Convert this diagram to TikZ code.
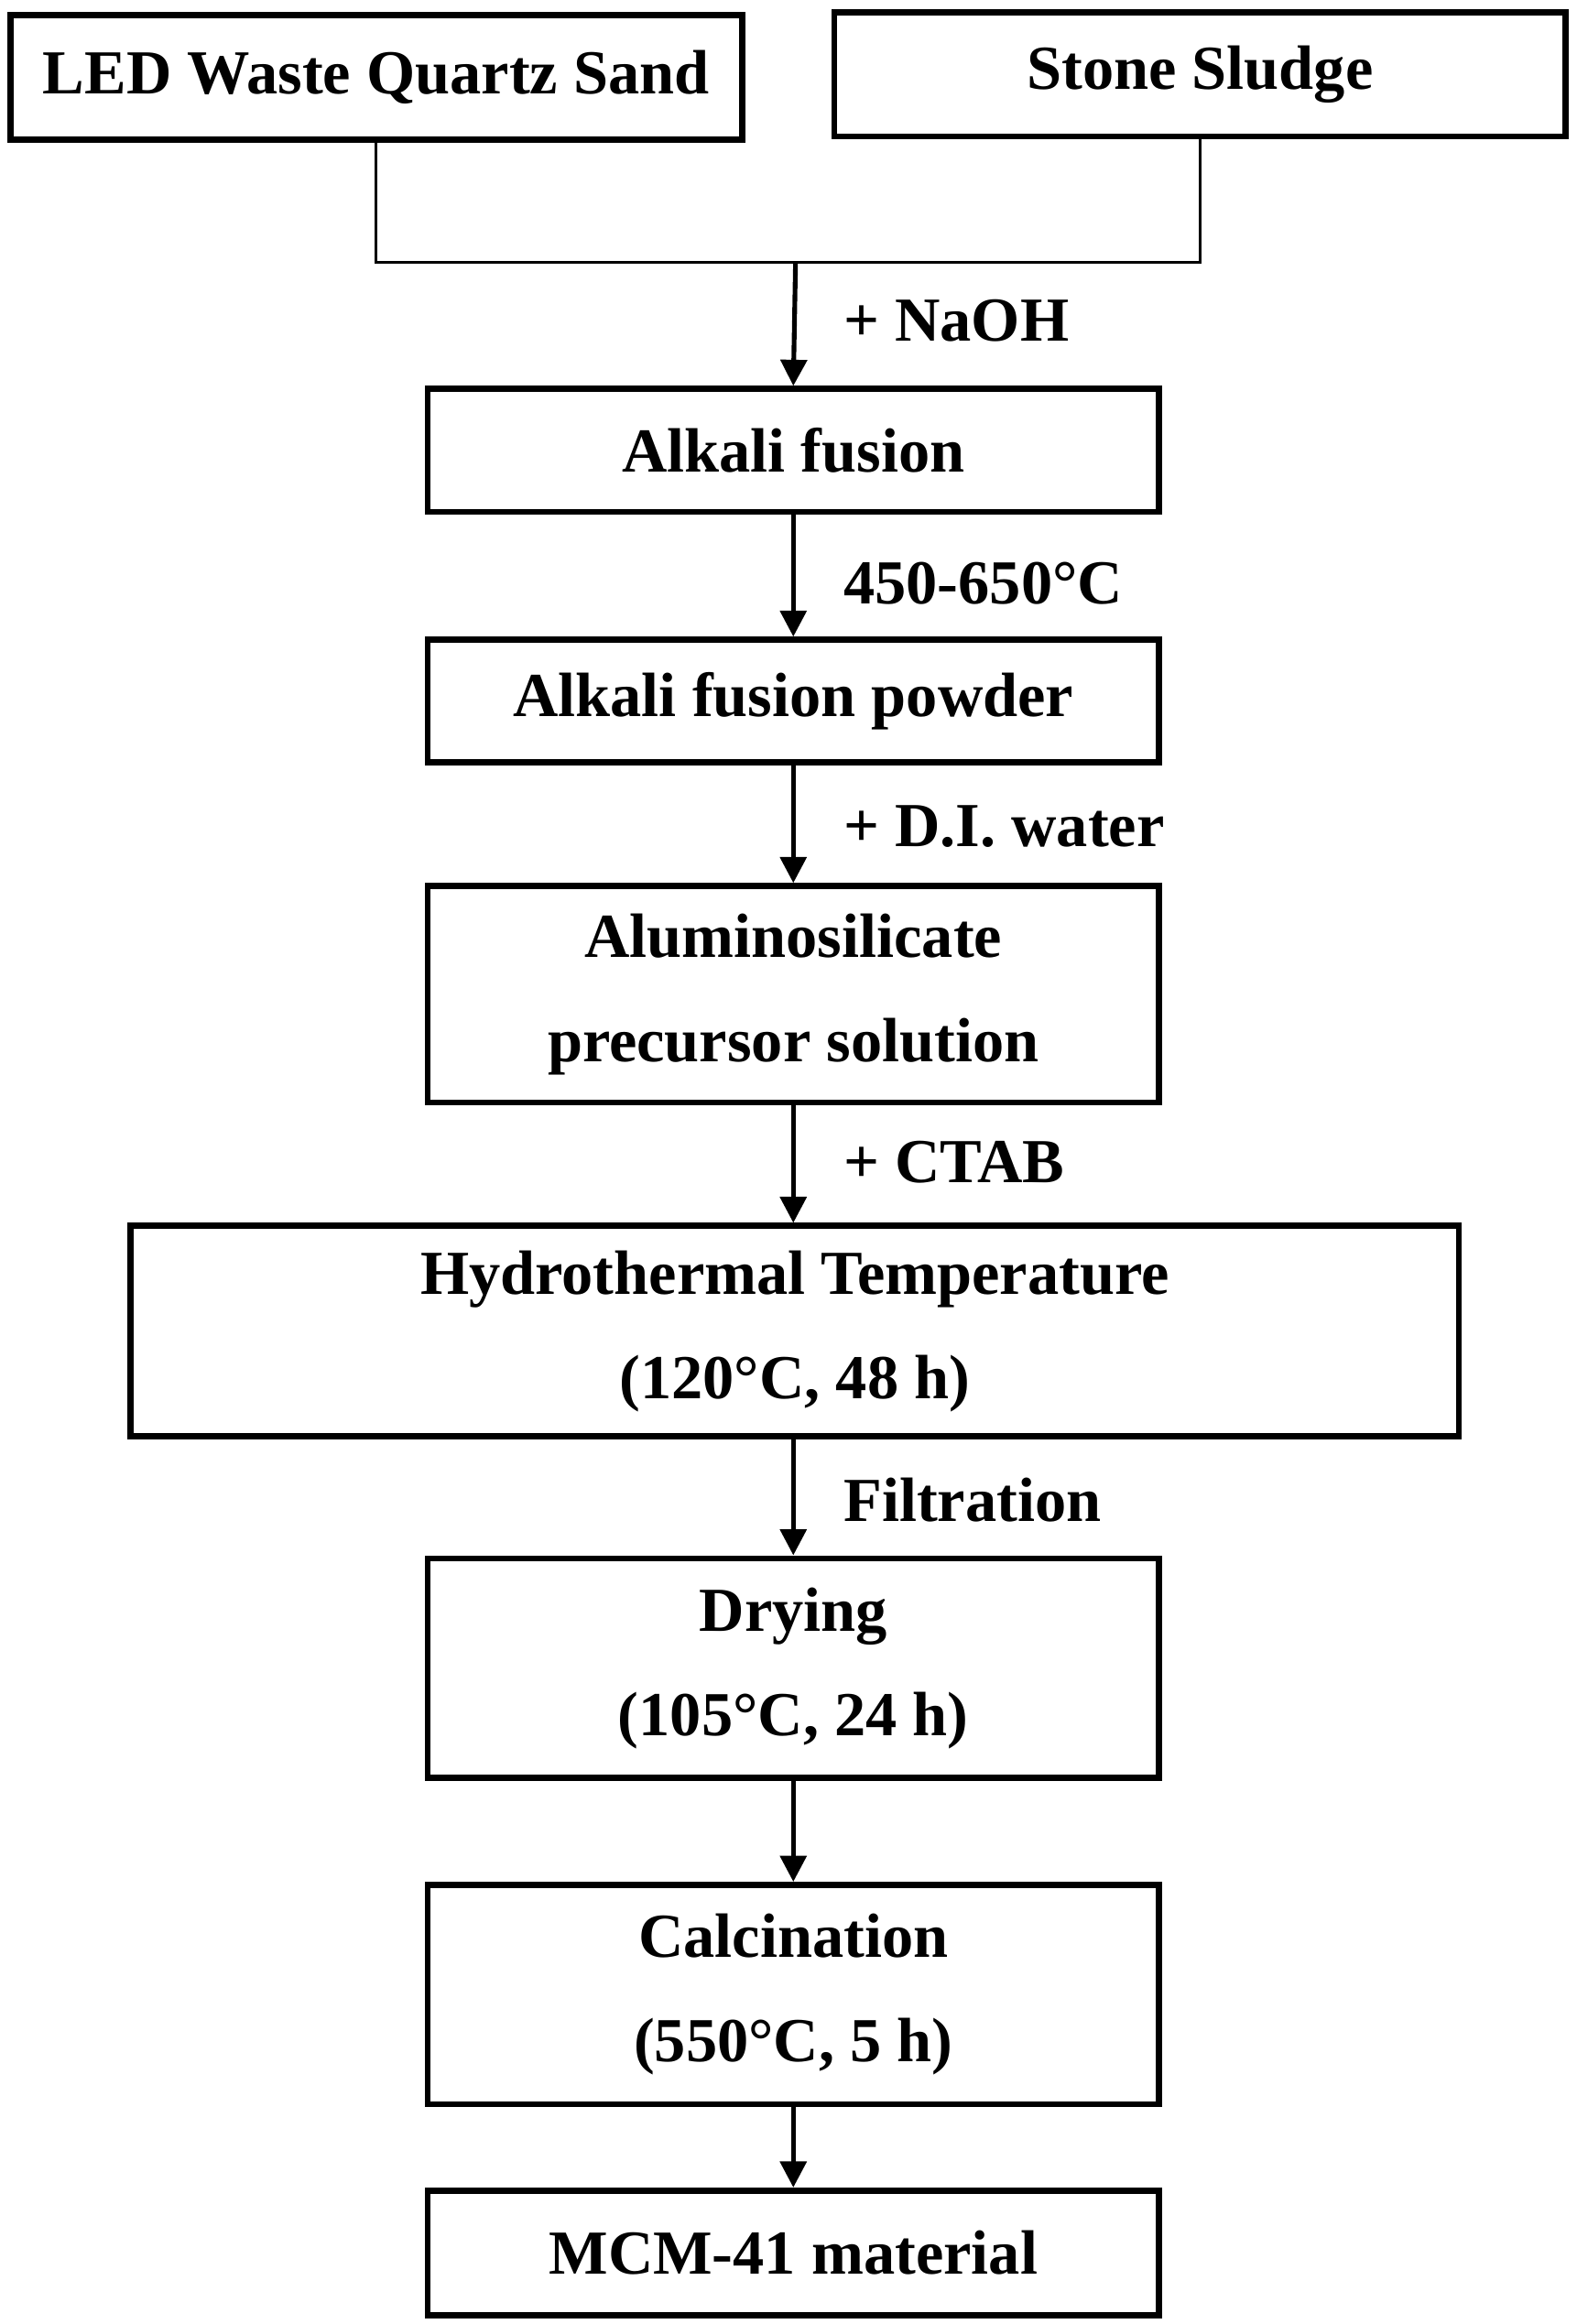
\documentclass[tikz,border=0pt]{standalone}
\usepackage{fontspec}
\setmainfont{Liberation Serif}
\usetikzlibrary{arrows.meta}
\begin{document}
\begin{tikzpicture}[x=0.01cm,y=-0.01cm,
  box/.style={draw,line width=1.2pt,inner sep=0pt,font=\fontsize{12}{20}\selectfont\bfseries,align=center},
  lab/.style={anchor=west,font=\fontsize{12}{14}\selectfont\bfseries},
  arr/.style={line width=0.9pt,-{Triangle[length=5pt,width=5pt]}}]
\useasboundingbox (0,0) rectangle (1062,1566);
\newcommand{\bx}[6]{\node[box,minimum width=#4*0.01cm-1.2pt,minimum height=#5*0.01cm-1.2pt] (#1) at (#2,#3) {#6};}
\bx{led}{253.5}{52}{497}{88}{LED Waste Quartz Sand}
\bx{stone}{808.5}{50}{497}{88}{Stone Sludge}
\bx{af}{534.5}{303.5}{497}{87}{Alkali fusion}
\bx{afp}{534.5}{472.5}{497}{87}{Alkali fusion powder}
\bx{alu}{534.5}{670}{497}{150}{Aluminosilicate\\precursor solution}
\bx{hyd}{535.5}{897}{899}{146}{Hydrothermal Temperature\\(120°C, 48 h)}
\bx{dry}{534.5}{1124}{497}{152}{Drying\\(105°C, 24 h)}
\bx{cal}{534.5}{1344}{497}{152}{Calcination\\(550°C, 5 h)}
\bx{mcm}{534.5}{1518}{497}{88}{MCM-41 material}
\coordinate (j) at (536,177);
\draw[line width=0.5pt] (led.south) |- (j) -| (stone.south);
\draw[arr] (j) -- (af.north);
\draw[arr] (af.south) -- (afp.north);
\draw[arr] (afp.south) -- (alu.north);
\draw[arr] (alu.south) -- (alu.south|-hyd.north);
\draw[arr] (hyd.south-|dry.north) -- (dry.north);
\draw[arr] (dry.south) -- (cal.north);
\draw[arr] (cal.south) -- (mcm.north);
\node[lab] (l1) at (556,216) {+ NaOH};
\node[lab] (l2) at (556,393) {450-650°C};
\node[lab] (l3) at (556,557) {+ D.I. water};
\node[lab] (l4) at (556,783) {+ CTAB};
\node[lab] (l5) at (556,1011) {Filtration};
\end{tikzpicture}
\end{document}
